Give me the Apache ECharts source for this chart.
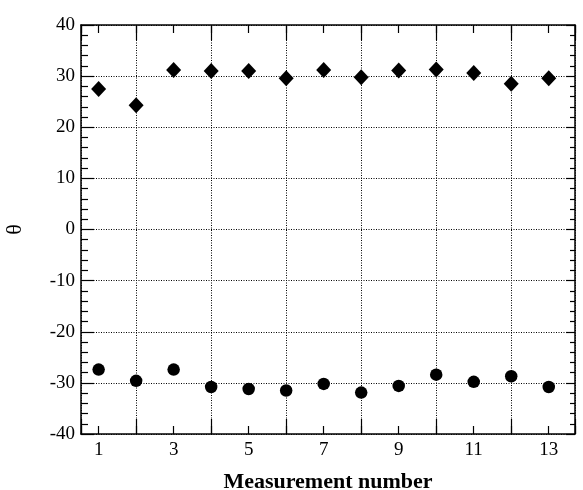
<!DOCTYPE html>
<html>
<head>
<meta charset="utf-8">
<script src="https://cdn.jsdelivr.net/npm/echarts@6/dist/echarts.min.js"></script>
<style>html,body{margin:0;padding:0;background:#fff;}#c{width:583px;height:490px;}</style>
</head>
<body>
<div id="c"></div>
<script>
const measurements = [1,2,3,4,5,6,7,8,9,10,11,12,13];
const upperTheta = [27.5,24.3,31.2,31.0,31.0,29.6,31.2,29.8,31.1,31.3,30.6,28.5,29.6];
const lowerTheta = [-27.4,-29.6,-27.4,-30.8,-31.2,-31.5,-30.2,-31.9,-30.6,-28.4,-29.8,-28.7,-30.8];
const xRange = [0.53, 13.7];
const yRange = [-40, 40];
const xTitle = 'Measurement number';
const yTitle = 'θ';

const font = 'Liberation Serif';
const xMin = xRange[0], xMax = xRange[1];
function oddLabel(v){ return (Math.abs(v - Math.round(v)) < 1e-6 && Math.round(v) % 2 === 1) ? String(Math.round(v)) : ''; }
const base = {type:'value', min:xMin, max:xMax, gridIndex:0};
const option = {
  animation:false,
  backgroundColor:'#fff',
  grid:{left:81, right:8, top:25, bottom:56, containLabel:false, outerBoundsMode:'none'},
  xAxis:[
    Object.assign({}, base, {position:'bottom', splitNumber:13, minInterval:1, maxInterval:1,
      axisLine:{show:true, onZero:false, lineStyle:{color:'#000', width:1.5}},
      axisTick:{show:true, inside:true, length:8, lineStyle:{color:'#000', width:1.2}},
      axisLabel:{show:true, margin:7, formatter:oddLabel, color:'#000', fontFamily:font, fontSize:19, showMinLabel:true, showMaxLabel:true},
      splitLine:{show:false},
      name:xTitle, nameLocation:'middle', nameGap:37,
      nameTextStyle:{fontFamily:font, fontSize:22, fontWeight:'bold', color:'#000'}}),
    Object.assign({}, base, {position:'bottom', splitNumber:6, minInterval:2, maxInterval:2,
      axisLine:{show:false, onZero:false},
      axisTick:{show:true, inside:true, length:15, lineStyle:{color:'#000', width:1.2}},
      axisLabel:{show:false},
      splitLine:{show:true, lineStyle:{color:'#000', type:[1,1.5], width:1}}}),
    Object.assign({}, base, {position:'top', splitNumber:13, minInterval:1, maxInterval:1,
      axisLine:{show:true, onZero:false, lineStyle:{color:'#000', width:1.5}},
      axisTick:{show:true, inside:true, length:8, lineStyle:{color:'#000', width:1.2}},
      axisLabel:{show:false}, splitLine:{show:false}}),
    Object.assign({}, base, {position:'top', splitNumber:6, minInterval:2, maxInterval:2,
      axisLine:{show:false, onZero:false},
      axisTick:{show:true, inside:true, length:15, lineStyle:{color:'#000', width:1.2}},
      axisLabel:{show:false}, splitLine:{show:false}})
  ],
  yAxis:[
    {type:'value', min:yRange[0], max:yRange[1], interval:10, position:'left',
      axisLine:{show:true, onZero:false, lineStyle:{color:'#000', width:1.5}},
      axisTick:{show:true, inside:true, length:13, lineStyle:{color:'#000', width:1.2}},
      minorTick:{show:true, splitNumber:5, length:7, lineStyle:{color:'#000', width:1.2}},
      axisLabel:{margin:6, color:'#000', fontFamily:font, fontSize:19},
      splitLine:{show:true, lineStyle:{color:'#000', type:[1,1.5], width:1}},
      name:yTitle, nameLocation:'middle', nameGap:55,
      nameTextStyle:{fontFamily:font, fontSize:22, color:'#000'}},
    {type:'value', min:yRange[0], max:yRange[1], interval:10, position:'right',
      axisLine:{show:true, onZero:false, lineStyle:{color:'#000', width:1.5}},
      axisTick:{show:true, inside:true, length:9, lineStyle:{color:'#000', width:1.2}},
      minorTick:{show:true, splitNumber:5, length:5, lineStyle:{color:'#000', width:1.2}},
      axisLabel:{show:false}, splitLine:{show:false}}
  ],
  series:[
    {type:'scatter', xAxisIndex:0, yAxisIndex:0, symbol:'diamond', symbolSize:[15,16],
      itemStyle:{color:'#000', opacity:1}, data:measurements.map((m,i)=>[m, upperTheta[i]])},
    {type:'scatter', xAxisIndex:0, yAxisIndex:0, symbol:'circle', symbolSize:12.5,
      itemStyle:{color:'#000', opacity:1}, data:measurements.map((m,i)=>[m, lowerTheta[i]])}
  ]
};
const chart = echarts.init(document.getElementById('c'), null, {renderer:'canvas'});
chart.setOption(option);
</script>
</body>
</html>
